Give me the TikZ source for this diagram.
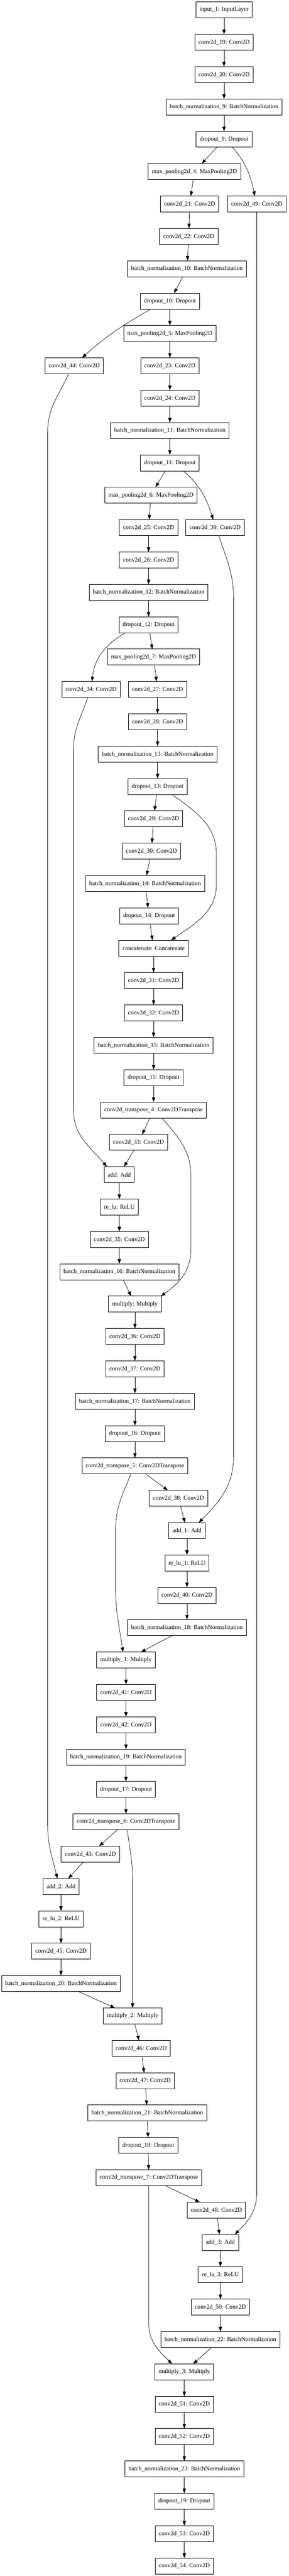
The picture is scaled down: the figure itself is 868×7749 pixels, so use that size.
\documentclass[tikz,border=0pt]{standalone}
\usepackage{fontspec}
\setmainfont{Liberation Serif}
\usetikzlibrary{arrows.meta,positioning}

\begin{document}
\begin{tikzpicture}
  [
   x=1pt,y=-1pt,
   node distance=49.33pt and 25pt,
   lb/.style={rectangle,draw=black,line width=1.33pt,inner xsep=11pt,inner ysep=0pt,outer sep=0pt,minimum height=48pt,font=\fontsize{18.2}{22}\selectfont},
   ed/.style={-{Triangle[length=14pt,width=10pt]},line width=1.1pt}
  ]
   \useasboundingbox[fill=white] (0,0) rectangle (868,7749);

   \node[lb] (in1) at (674,29.8) {input\_1: InputLayer};
   \node[lb] (c19) [below=of in1] {conv2d\_19: Conv2D};
   \node[lb] (c20) [below=of c19] {conv2d\_20: Conv2D};
   \node[lb] (bn9) [below=of c20] {batch\_normalization\_9: BatchNormalization};
   \node[lb] (do9) [below=of bn9] {dropout\_9: Dropout};
   \node[lb] (mp4) [below=of do9,xshift=-89pt] {max\_pooling2d\_4: MaxPooling2D};
   \node[lb] (c21) [below=of mp4,xshift=-14.5pt] {conv2d\_21: Conv2D};
   \node[lb] (c49) [right=26.5pt of c21] {conv2d\_49: Conv2D};
   \node[lb] (c22) [below=of c21,xshift=-2.5pt] {conv2d\_22: Conv2D};
   \node[lb] (bn10) [below=of c22,xshift=-5.5pt] {batch\_normalization\_10: BatchNormalization};
   \node[lb] (do10) [below=of bn10,xshift=-51.5pt] {dropout\_10: Dropout};
   \node[lb] (mp5) [below=of do10] {max\_pooling2d\_5: MaxPooling2D};
   \node[lb] (c23) [below=of mp5] {conv2d\_23: Conv2D};
   \node[lb] (c44) [left=112pt of c23] {conv2d\_44: Conv2D};
   \node[lb] (c24) [below=of c23] {conv2d\_24: Conv2D};
   \node[lb] (bn11) [below=of c24] {batch\_normalization\_11: BatchNormalization};
   \node[lb] (do11) [below=of bn11] {dropout\_11: Dropout};
   \node[lb] (mp6) [below=of do11,xshift=-57pt] {max\_pooling2d\_6: MaxPooling2D};
   \node[lb] (c25) [below=of mp6,xshift=-7pt] {conv2d\_25: Conv2D};
   \node[lb] (c39) [right=24.5pt of c25] {conv2d\_39: Conv2D};
   \node[lb] (c26) [below=of c25] {conv2d\_26: Conv2D};
   \node[lb] (bn12) [below=of c26] {batch\_normalization\_12: BatchNormalization};
   \node[lb] (do12) [below=of bn12] {dropout\_12: Dropout};
   \node[lb] (mp7) [below=of do12,xshift=15pt] {max\_pooling2d\_7: MaxPooling2D};
   \node[lb] (c27) [below=of mp7,xshift=12pt] {conv2d\_27: Conv2D};
   \node[lb] (c34) [left=24.5pt of c27] {conv2d\_34: Conv2D};
   \node[lb] (c28) [below=of c27] {conv2d\_28: Conv2D};
   \node[lb] (bn13) [below=of c28] {batch\_normalization\_13: BatchNormalization};
   \node[lb] (do13) [below=of bn13] {dropout\_13: Dropout};
   \node[lb] (c29) [below=of do13,xshift=-12pt] {conv2d\_29: Conv2D};
   \node[lb] (c30) [below=of c29,xshift=-6.5pt] {conv2d\_30: Conv2D};
   \node[lb] (bn14) [below=of c30,xshift=-19pt] {batch\_normalization\_14: BatchNormalization};
   \node[lb] (do14) [below=of bn14,xshift=12pt] {dropout\_14: Dropout};
   \node[lb] (cat) [below=of do14,xshift=13.5pt] {concatenate: Concatenate};
   \node[lb] (c31) [below=of cat] {conv2d\_31: Conv2D};
   \node[lb] (c32) [below=of c31] {conv2d\_32: Conv2D};
   \node[lb] (bn15) [below=of c32] {batch\_normalization\_15: BatchNormalization};
   \node[lb] (do15) [below=of bn15] {dropout\_15: Dropout};
   \node[lb] (ct4) [below=of do15] {conv2d\_transpose\_4: Conv2DTranspose};
   \node[lb] (c33) [below=of ct4,xshift=-45.5pt] {conv2d\_33: Conv2D};
   \node[lb] (add0) [below=of c33,xshift=-57.5pt] {add: Add};
   \node[lb] (relu0) [below=of add0] {re\_lu: ReLU};
   \node[lb] (c35) [below=of relu0] {conv2d\_35: Conv2D};
   \node[lb] (bn16) [below=of c35] {batch\_normalization\_16: BatchNormalization};
   \node[lb] (mul0) [below=of bn16,xshift=47pt] {multiply: Multiply};
   \node[lb] (c36) [below=of mul0] {conv2d\_36: Conv2D};
   \node[lb] (c37) [below=of c36] {conv2d\_37: Conv2D};
   \node[lb] (bn17) [below=of c37] {batch\_normalization\_17: BatchNormalization};
   \node[lb] (do16) [below=of bn17] {dropout\_16: Dropout};
   \node[lb] (ct5) [below=of do16] {conv2d\_transpose\_5: Conv2DTranspose};
   \node[lb] (c38) [below=of ct5,xshift=131pt] {conv2d\_38: Conv2D};
   \node[lb] (add1) [below=of c38,xshift=25.5pt] {add\_1: Add};
   \node[lb] (relu1) [below=of add1] {re\_lu\_1: ReLU};
   \node[lb] (c40) [below=of relu1] {conv2d\_40: Conv2D};
   \node[lb] (bn18) [below=of c40] {batch\_normalization\_18: BatchNormalization};
   \node[lb] (mul1) [below=of bn18,xshift=-183.5pt] {multiply\_1: Multiply};
   \node[lb] (c41) [below=of mul1] {conv2d\_41: Conv2D};
   \node[lb] (c42) [below=of c41] {conv2d\_42: Conv2D};
   \node[lb] (bn19) [below=of c42] {batch\_normalization\_19: BatchNormalization};
   \node[lb] (do17) [below=of bn19] {dropout\_17: Dropout};
   \node[lb] (ct6) [below=of do17] {conv2d\_transpose\_6: Conv2DTranspose};
   \node[lb] (c43) [below=of ct6,xshift=-107pt] {conv2d\_43: Conv2D};
   \node[lb] (add2) [below=of c43,xshift=-88.5pt] {add\_2: Add};
   \node[lb] (relu2) [below=of add2] {re\_lu\_2: ReLU};
   \node[lb] (c45) [below=of relu2] {conv2d\_45: Conv2D};
   \node[lb] (bn20) [below=of c45] {batch\_normalization\_20: BatchNormalization};
   \node[lb] (mul2) [below=of bn20,xshift=215.5pt] {multiply\_2: Multiply};
   \node[lb] (c46) [below=of mul2,xshift=25.5pt] {conv2d\_46: Conv2D};
   \node[lb] (c47) [below=of c46,xshift=12pt] {conv2d\_47: Conv2D};
   \node[lb] (bn21) [below=of c47,xshift=6.5pt] {batch\_normalization\_21: BatchNormalization};
   \node[lb] (do18) [below=of bn21,xshift=3pt] {dropout\_18: Dropout};
   \node[lb] (ct7) [below=of do18,xshift=1.5pt] {conv2d\_transpose\_7: Conv2DTranspose};
   \node[lb] (c48) [below=of ct7,xshift=203.5pt] {conv2d\_48: Conv2D};
   \node[lb] (add3) [below=of c48,xshift=12pt] {add\_3: Add};
   \node[lb] (relu3) [below=of add3] {re\_lu\_3: ReLU};
   \node[lb] (c50) [below=of relu3] {conv2d\_50: Conv2D};
   \node[lb] (bn22) [below=of c50] {batch\_normalization\_22: BatchNormalization};
   \node[lb] (mul3) [below=of bn22,xshift=-108.5pt] {multiply\_3: Multiply};
   \node[lb] (c51) [below=of mul3] {conv2d\_51: Conv2D};
   \node[lb] (c52) [below=of c51] {conv2d\_52: Conv2D};
   \node[lb] (bn23) [below=of c52] {batch\_normalization\_23: BatchNormalization};
   \node[lb] (do19) [below=of bn23] {dropout\_19: Dropout};
   \node[lb] (c53) [below=of do19] {conv2d\_53: Conv2D};
   \node[lb] (c54) [below=of c53] {conv2d\_54: Conv2D};

   \draw[ed] (in1) -- (c19);
   \draw[ed] (c19) -- (c20);
   \draw[ed] (c20) -- (bn9);
   \draw[ed] (bn9) -- (do9);
   \draw[ed] (do9) -- (mp4);
   \draw[ed] ([xshift=26pt]do9.south) to[out=-50,in=102] ([xshift=-6pt]c49.north);
   \draw[ed] (mp4) -- (c21);
   \draw[ed] (c21) -- (c22);
   \draw[ed] (c22) -- (bn10);
   \draw[ed] (bn10) -- (do10);
   \draw[ed] (do10) -- (mp5);
   \draw[ed] ([xshift=-57.5pt]do10.south) to[out=-150,in=42] ([xshift=23.5pt]c44.north);
   \draw[ed] (mp5) -- (c23);
   \draw[ed] (c23) -- (c24);
   \draw[ed] (c24) -- (bn11);
   \draw[ed] (bn11) -- (do11);
   \draw[ed] (do11) -- (mp6);
   \draw[ed] ([xshift=40pt]do11.south) to[out=-40,in=108] ([xshift=-5.5pt]c39.north);
   \draw[ed] (mp6) -- (c25);
   \draw[ed] (c25) -- (c26);
   \draw[ed] (c26) -- (bn12);
   \draw[ed] (bn12) -- (do12);
   \draw[ed] (do12) -- (mp7);
   \draw[ed] ([xshift=-69.4pt]do12.south) to[out=-150,in=84] ([xshift=3pt]c34.north);
   \draw[ed] (mp7) -- (c27);
   \draw[ed] (c27) -- (c28);
   \draw[ed] (c28) -- (bn13);
   \draw[ed] (bn13) -- (do13);
   \draw[ed] (do13) -- (c29);
   \draw[ed] ([xshift=43.5pt]do13.south) to[out=-36,in=90] (651,2570) -- (651,2660) to[out=-90,in=35] ([xshift=52.7pt]cat.north);
   \draw[ed] (c29) -- (c30);
   \draw[ed] (c30) -- (bn14);
   \draw[ed] (bn14) -- (do14);
   \draw[ed] (do14) -- (cat);
   \draw[ed] (cat) -- (c31);
   \draw[ed] (c31) -- (c32);
   \draw[ed] (c32) -- (bn15);
   \draw[ed] (bn15) -- (do15);
   \draw[ed] (do15) -- (ct4);
   \draw[ed] (ct4) -- (c33);
   \draw[ed] ([xshift=25.4pt]ct4.south) to[out=-50,in=90] (574,3535) -- (574,3760) to[out=-90,in=35] ([xshift=78pt]mul0.north);
   \draw[ed] (c33) -- (add0);
   \draw[ed] ([xshift=-10pt]c34.south) to[out=-108,in=90] (221,2255) -- (221,3340) to[out=-90,in=130] ([xshift=-37.4pt]add0.north);
   \draw[ed] (add0) -- (relu0);
   \draw[ed] (relu0) -- (c35);
   \draw[ed] (c35) -- (bn16);
   \draw[ed] (bn16) -- (mul0);
   \draw[ed] (mul0) -- (c36);
   \draw[ed] (c36) -- (c37);
   \draw[ed] (c37) -- (bn17);
   \draw[ed] (bn17) -- (do16);
   \draw[ed] (do16) -- (ct5);
   \draw[ed] (ct5) -- (c38);
   \draw[ed] ([xshift=-12pt]ct5.south) to[out=-112,in=90] (348,4600) -- (348,4780) to[out=-90,in=98] ([xshift=-9pt]mul1.north);
   \draw[ed] (c38) -- (add1);
   \draw[ed] ([xshift=11pt]c39.south) to[out=-72,in=90] (702.7,1800) -- (702.7,4380) to[out=-90,in=45] ([xshift=35.5pt]add1.north);
   \draw[ed] (add1) -- (relu1);
   \draw[ed] (relu1) -- (c40);
   \draw[ed] (c40) -- (bn18);
   \draw[ed] (bn18) -- (mul1);
   \draw[ed] (mul1) -- (c41);
   \draw[ed] (c41) -- (c42);
   \draw[ed] (c42) -- (bn19);
   \draw[ed] (bn19) -- (do17);
   \draw[ed] (do17) -- (ct6);
   \draw[ed] (ct6) -- (c43);
   \draw[ed] ([xshift=4pt]ct6.south) to[out=-83,in=90] (mul2.north |- 0,5660) -- (mul2.north);
   \draw[ed] (c43) -- (add2);
   \draw[ed] ([xshift=-16.5pt]c44.south) to[out=-115,in=90] (143.5,1300) -- (143.5,5490) to[out=-90,in=103] ([xshift=-11pt]add2.north);
   \draw[ed] (add2) -- (relu2);
   \draw[ed] (relu2) -- (c45);
   \draw[ed] (c45) -- (bn20);
   \draw[ed] (bn20) -- (mul2);
   \draw[ed] (mul2) -- (c46);
   \draw[ed] (c46) -- (c47);
   \draw[ed] (c47) -- (bn21);
   \draw[ed] (bn21) -- (do18);
   \draw[ed] (do18) -- (ct7);
   \draw[ed] (ct7) -- (c48);
   \draw[ed] (ct7.south) -- (ct7.south |- 0,6990) to[out=-90,in=135] ([xshift=-37pt]mul3.north);
   \draw[ed] (c48) -- (add3);
   \draw[ed] (c49.south) -- (c49.south |- 0,6595) to[out=-90,in=45] ([xshift=43.6pt]add3.north);
   \draw[ed] (add3) -- (relu3);
   \draw[ed] (relu3) -- (c50);
   \draw[ed] (c50) -- (bn22);
   \draw[ed] (bn22) -- (mul3);
   \draw[ed] (mul3) -- (c51);
   \draw[ed] (c51) -- (c52);
   \draw[ed] (c52) -- (bn23);
   \draw[ed] (bn23) -- (do19);
   \draw[ed] (do19) -- (c53);
   \draw[ed] (c53) -- (c54);

\end{tikzpicture}
\end{document}
